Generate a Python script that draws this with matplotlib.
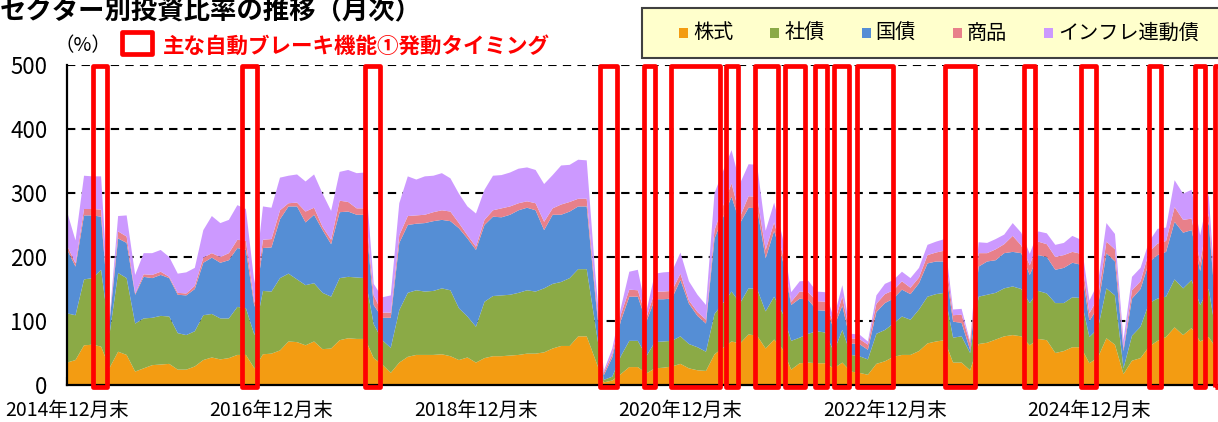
import numpy as np
import matplotlib
matplotlib.use("Agg")
import matplotlib.pyplot as plt
from matplotlib.patches import Rectangle

plt.rcParams['font.family'] = ['Noto Sans CJK JP', 'DejaVu Sans']

# --- Data: monthly allocation (%) from 2014-12 ---
stock = [35, 39, 62, 63, 60, 27, 52, 47, 21, 26, 31, 32, 33, 24, 24, 29, 39, 43, 40, 42,
         47, 47, 26, 48, 49, 54, 68, 67, 62, 68, 56, 57, 70, 73, 72, 72, 42, 32, 19, 35,
         44, 47, 47, 47, 48, 45, 39, 43, 35, 42, 45, 45, 46, 47, 49, 49, 51, 57, 61, 61,
         76, 76, 40, 4, 7, 17, 28, 28, 18, 26, 27, 29, 33, 26, 23, 22, 48, 58, 68, 65,
         79, 77, 57, 71, 56, 24, 34, 35, 34, 34, 26, 35, 21, 19, 16, 33, 37, 44, 47, 47,
         53, 65, 68, 70, 35, 35, 23, 64, 66, 71, 76, 78, 76, 62, 72, 70, 50, 53, 59, 59,
         34, 43, 73, 63, 17, 38, 42, 60, 69, 75, 90, 78, 89, 68, 75, 55]
corp = [77, 70, 103, 104, 120, 53, 123, 120, 75, 78, 74, 76, 74, 57, 54, 55, 70, 68, 64, 62,
        75, 73, 52, 99, 97, 113, 106, 98, 94, 91, 88, 81, 97, 96, 96, 95, 53, 38, 39, 82,
        100, 101, 99, 100, 103, 103, 81, 64, 56, 88, 94, 95, 95, 97, 99, 97, 100, 101, 100, 106,
        105, 105, 55, 4, 6, 28, 41, 41, 27, 41, 41, 40, 43, 38, 36, 30, 63, 70, 78, 63,
        72, 73, 58, 67, 56, 45, 40, 45, 50, 48, 26, 51, 26, 26, 24, 47, 49, 52, 60, 55,
        65, 73, 74, 74, 39, 41, 27, 74, 75, 73, 75, 76, 74, 66, 75, 73, 78, 75, 78, 77,
        41, 45, 78, 77, 9, 39, 49, 68, 66, 63, 75, 73, 75, 57, 75, 15]
govt = [100, 76, 100, 98, 83, 20, 54, 55, 45, 65, 62, 64, 60, 60, 62, 66, 82, 88, 87, 91,
        92, 91, 44, 67, 69, 92, 105, 114, 98, 107, 98, 82, 103, 102, 98, 99, 30, 35, 47, 105,
        106, 104, 107, 109, 107, 108, 125, 122, 120, 120, 124, 122, 125, 129, 129, 127, 91, 108, 105, 104,
        98, 98, 45, 7, 30, 55, 69, 69, 54, 67, 66, 66, 88, 63, 49, 44, 118, 134, 148, 125,
        126, 126, 83, 103, 83, 56, 61, 53, 33, 34, 38, 38, 18, 19, 15, 34, 42, 39, 42, 40,
        41, 52, 51, 49, 25, 21, 5, 47, 52, 51, 55, 54, 56, 44, 56, 57, 52, 55, 54, 52,
        25, 34, 55, 53, 27, 58, 59, 64, 68, 70, 90, 87, 78, 53, 105, 20]
commodity = [6, 5, 10, 10, 11, 2, 11, 10, 2, 4, 5, 5, 2, 3, 3, 5, 8, 7, 9, 11,
             13, 14, 6, 13, 13, 14, 5, 6, 17, 11, 5, 7, 18, 15, 10, 10, 15, 8, 8, 12,
             14, 13, 13, 14, 15, 15, 8, 5, 5, 8, 10, 14, 13, 11, 10, 11, 13, 10, 16, 15,
             12, 12, 10, 4, 5, 10, 11, 10, 6, 12, 12, 12, 10, 5, 6, 6, 13, 18, 21, 10,
             18, 18, 13, 13, 10, 5, 11, 12, 14, 14, 5, 14, 8, 8, 8, 13, 14, 13, 13, 10,
             9, 13, 14, 17, 10, 13, 10, 21, 13, 17, 14, 25, 12, 15, 21, 20, 20, 20, 17, 17,
             12, 14, 18, 19, 4, 13, 12, 16, 18, 17, 23, 20, 18, 13, 13, 5]
inflation = [53, 36, 52, 51, 52, 3, 24, 33, 29, 33, 34, 34, 31, 30, 33, 28, 43, 58, 53, 52,
             54, 50, 31, 52, 49, 51, 43, 44, 47, 52, 52, 45, 45, 50, 55, 56, 18, 24, 27, 50,
             62, 56, 60, 57, 58, 52, 46, 45, 52, 47, 54, 52, 53, 54, 53, 52, 59, 52, 61, 58,
             61, 60, 25, 3, 9, 10, 28, 32, 10, 28, 30, 30, 33, 30, 27, 23, 58, 54, 52, 52,
             50, 50, 30, 31, 25, 15, 16, 18, 15, 15, 10, 18, 7, 7, 5, 13, 16, 16, 15, 15,
             15, 16, 17, 18, 9, 9, 3, 17, 16, 16, 15, 20, 20, 18, 16, 17, 19, 19, 25, 22,
             20, 23, 29, 24, 13, 21, 21, 16, 23, 21, 42, 41, 45, 43, 31, 5]

series_names = ['株式', '社債', '国債', '商品', 'インフレ連動債']
colors = ['#F39C12', '#8BAA46', '#558ED5', '#E8808A', '#CC99FF']

tick_months = [0, 24, 48, 72, 96, 120]
tick_labels = ['2014年12月末', '2016年12月末', '2018年12月末',
               '2020年12月末', '2022年12月末', '2024年12月末']

# auto-brake trigger windows (month index start, end)
brake_windows = [(3.0, 4.7), (20.5, 22.3), (35.0, 36.7), (62.6, 64.6), (67.7, 69.0),
                 (70.9, 76.6), (77.3, 78.8), (80.8, 83.5), (84.3, 86.6), (87.8, 89.2),
                 (90.0, 91.8), (92.7, 96.9), (103.1, 106.6), (112.3, 113.6), (119.0, 120.8),
                 (127.0, 128.4), (132.4, 133.6), (134.7, 137.0)]

months = np.arange(len(stock))

# --- Figure ---
W, H = 1218, 422
fig = plt.figure(figsize=(W / 100, H / 100), dpi=100)
ax = fig.add_axes([67 / W, 1 - 385 / H, 1 - 67 / W, 320 / H])

ax.stackplot(months, stock, corp, govt, commodity, inflation,
             colors=colors, linewidth=0)

ax.set_xlim(0, (W - 67) / 8.52)
ax.set_ylim(0, 500)
ax.set_yticks([0, 100, 200, 300, 400, 500])
ax.set_xticks(tick_months)
ax.set_xticklabels(tick_labels)
ax.set_axisbelow(True)
ax.yaxis.grid(True, color='black', linestyle=(0, (4, 3)), linewidth=1.5)

for s in ['top', 'right']:
    ax.spines[s].set_visible(False)
for s in ['left', 'bottom']:
    ax.spines[s].set_linewidth(1.6)
    ax.spines[s].set_color('black')
    ax.spines[s].set_zorder(3)

ax.tick_params(axis='y', length=0, pad=14, labelsize=16)
ax.tick_params(axis='x', direction='in', length=6, width=1.5, pad=11, labelsize=14)

# --- Brake timing boxes ---
for start, end in brake_windows:
    ax.add_patch(Rectangle((start, -3), end - start, 502, fill=False,
                           edgecolor='#FF0000', linewidth=3.4, joinstyle='round',
                           clip_on=False, zorder=5))


def fx(x):
    return x / W


def fy(y):
    return 1 - y / H


# --- Title and labels ---
fig.text(0, fy(12), 'セクター別投資比率の推移（月次）', fontsize=19, fontweight='bold',
         ha='left', va='center')
fig.text(fx(83), fy(46), '（%）', fontsize=14, ha='center', va='center')

fig.patches.append(Rectangle((fx(122), fy(54)), fx(152) - fx(122), fy(32) - fy(54),
                             transform=fig.transFigure, fill=False, edgecolor='#FF0000',
                             linewidth=3.4, joinstyle='round'))
fig.text(fx(163), fy(46), '主な自動ブレーキ機能①発動タイミング', fontsize=15.5,
         fontweight='bold', color='#FF0000', ha='left', va='center')

# --- Legend box ---
fig.patches.append(Rectangle((fx(642), fy(58)), fx(1240) - fx(642), fy(8) - fy(58),
                             transform=fig.transFigure, facecolor='#FFFFCC',
                             edgecolor='#404040', linewidth=1.5))
fig.canvas.draw()
renderer = fig.canvas.get_renderer()
x = 679
for name, c in zip(series_names, colors):
    fig.patches.append(Rectangle((fx(x), fy(38)), fx(9), fy(28) - fy(38),
                                 transform=fig.transFigure, facecolor=c, edgecolor='none'))
    t = fig.text(fx(x + 14), fy(33), name, fontsize=14.5, ha='left', va='center')
    bb = t.get_window_extent(renderer)
    x = bb.x1 + 37

fig.savefig('out.png', dpi=100)
